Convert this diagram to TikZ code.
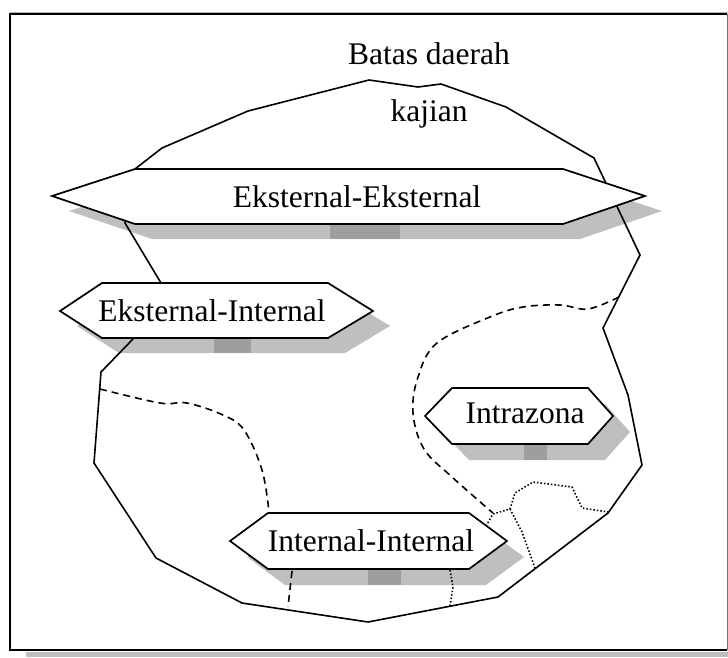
\documentclass[tikz,border=0pt]{standalone}
\usepackage{fontspec}
\setmainfont{Liberation Serif}
\begin{document}
\begin{tikzpicture}[x=1pt,y=-1pt,
  outline/.style={line width=1.6pt,line join=miter},
  dashline/.style={line width=1.6pt,dash pattern=on 7pt off 5pt},
  dotline/.style={line width=1.6pt,dash pattern=on 1.5pt off 2pt},
  hexbox/.style={draw=black,fill=white,line width=1.7pt,line join=miter},
  shadowfill/.style={fill=black!25},
  darkfill/.style={fill=black!38},
  lbl/.style={inner sep=0pt,anchor=base,font=\fontsize{31.5}{36}\selectfont}]
\useasboundingbox (0,0) rectangle (728,657);
% frame and its shadow
\fill[shadowfill] (26,652) rectangle (728,657);
\draw[black!30,line width=1pt] (10,12) -- (728,12);
\draw[line width=2pt] (727,650) -- (10,650) -- (10,14) -- (727,14);
\draw[black!55,line width=1pt] (727,14) -- (727,650);
% shadows of the boxes
\begin{scope}[shift={(17,15)}]
  \fill[shadowfill] (52,196) -- (135,169) -- (563,169) -- (645,196) -- (563,224) -- (135,224) -- cycle;
  \fill[shadowfill] (60,311) -- (102,283) -- (328,283) -- (373,311) -- (328,338) -- (102,338) -- cycle;
\end{scope}
\begin{scope}[shift={(17,16)}]
  \fill[shadowfill] (425,416) -- (452,388) -- (588,388) -- (613,416) -- (588,444) -- (452,444) -- cycle;
  \fill[shadowfill] (230,541) -- (268,513) -- (469,513) -- (507,541) -- (469,569) -- (268,569) -- cycle;
\end{scope}
\fill[darkfill] (330,184) rectangle (400,239);
\fill[darkfill] (214,298) rectangle (251,353);
\fill[darkfill] (524,404) rectangle (547,460);
\fill[darkfill] (368,529) rectangle (401,585);
% boundary of the study area
\draw[outline] (135,169) -- (162,148) -- (248,111) -- (369,80) -- (418,87) -- (441,84)
  -- (506,107) -- (594,158) -- (640,255) -- (603,328) -- (628,395) -- (642,465)
  -- (608,513) -- (498,597) -- (368,622) -- (242,603) -- (156,558) -- (94,463)
  -- (101,372) -- (133,339) -- (161,283) -- (125,223) -- cycle;
% zone borders
\draw[dashline] plot[smooth,tension=0.6] coordinates {(100,389) (160,403) (187,403) (223,415) (244,430) (262,470) (269,512)};
\draw[dashline] (292,571) -- (288,607);
\draw[dashline] plot[smooth,tension=0.6] coordinates {(619,297) (588,309) (560,305) (523,307) (490,317) (437,343) (418,377) (413,413) (424,449) (452,477) (493,513)};
\draw[dotline] (486,526) -- (493,514) -- (510,509) -- (515,493) -- (533,482) -- (572,487) -- (582,508) -- (608,512);
\draw[dotline] (510,509) -- (522,532) -- (535,568);
\draw[dotline] (450,570) -- (453,587) -- (450,606);
% boxes
\draw[hexbox] (52,196) -- (135,169) -- (563,169) -- (645,196) -- (563,224) -- (135,224) -- cycle;
\draw[hexbox] (60,311) -- (102,283) -- (328,283) -- (373,311) -- (328,338) -- (102,338) -- cycle;
\draw[hexbox] (425,416) -- (452,388) -- (588,388) -- (613,416) -- (588,444) -- (452,444) -- cycle;
\draw[hexbox] (230,541) -- (268,513) -- (469,513) -- (507,541) -- (469,569) -- (268,569) -- cycle;
% texts
\node[lbl] (bd1) at (429,64) {Batas daerah};
\node[lbl] (bd2) at (429,121) {kajian};
\node[lbl] (ee) at (357,207) {Eksternal-Eksternal};
\node[lbl] (ei) at (212,321) {Eksternal-Internal};
\node[lbl] (iz) at (525,423) {Intrazona};
\node[lbl] (ii) at (371,551) {Internal-Internal};
\end{tikzpicture}
\end{document}
